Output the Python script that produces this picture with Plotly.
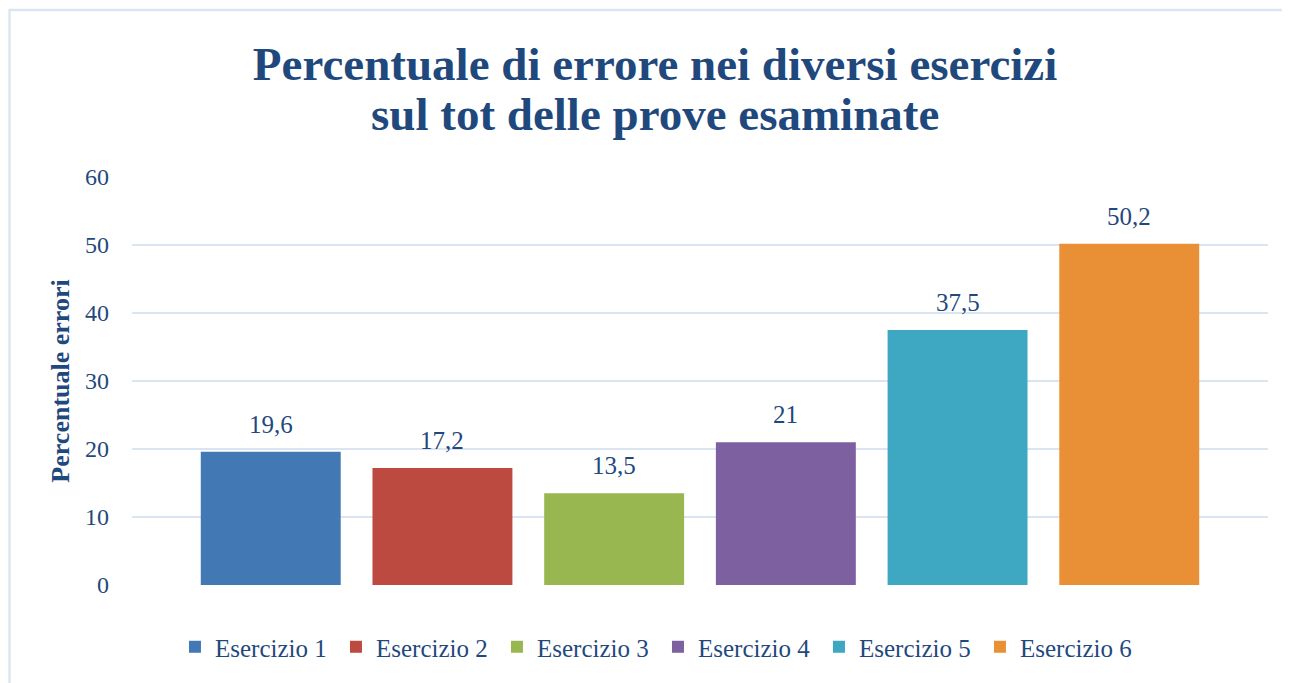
import plotly.graph_objects as go

# dati
esercizi = ["Esercizio 1", "Esercizio 2", "Esercizio 3", "Esercizio 4", "Esercizio 5", "Esercizio 6"]
percentuali = [19.6, 17.2, 13.5, 21, 37.5, 50.2]
colori = ["#4279b5", "#bc4a41", "#98b750", "#7c60a0", "#3ea7c1", "#e99036"]
y_ticks = [0, 10, 20, 30, 40, 50, 60]

titolo_1 = "Percentuale di errore nei diversi esercizi"
titolo_2 = "sul tot delle prove esaminate"

FONT = "Liberation Serif"
BLU = "#1f497d"

def etichetta(v):
    return f"{v:g}".replace(".", ",")

fig = go.Figure()
for i, (nome, val, col) in enumerate(zip(esercizi, percentuali, colori)):
    fig.add_trace(go.Bar(
        x=[i], y=[val], name=nome, width=0.815,
        marker=dict(color=col, line=dict(width=0)),
        hoverinfo="name+y",
    ))
    fig.add_annotation(x=i, y=val, text=etichetta(val), showarrow=False,
                       yanchor="bottom", yshift=12,
                       font=dict(family=FONT, size=25, color=BLU))

# seconda riga del titolo
fig.add_annotation(xref="paper", yref="paper", x=0.4604, y=1.1544,
                   xanchor="center", yanchor="middle", showarrow=False,
                   text="<b>" + titolo_2 + "</b>",
                   font=dict(family=FONT, size=47, color=BLU))

# bordo del grafico (solo sinistra e sopra visibili)
fig.add_shape(type="rect", xref="paper", yref="paper",
              x0=-0.1078, x1=1.1, y0=-0.4, y1=1.4093,
              line=dict(color="#dce6f2", width=2.5), layer="below")

fig.update_layout(
    width=1290, height=683,
    margin=dict(l=124, r=30, t=169, b=106),
    paper_bgcolor="white", plot_bgcolor="white",
    barmode="relative",
    font=dict(family=FONT, color=BLU, size=24),
    title=dict(
        text="<b>" + titolo_1 + "</b>",
        x=0.5016, xanchor="center", xref="container",
        y=0.9187, yanchor="middle", yref="container",
        font=dict(family=FONT, size=47, color=BLU),
    ),
    xaxis=dict(range=[-0.808, 5.808], showticklabels=False, showgrid=False,
               zeroline=False, showline=False, fixedrange=True),
    yaxis=dict(range=[0, 60], tickvals=y_ticks, showgrid=True,
               gridcolor="#dbe5f1", gridwidth=2, zeroline=False, showline=False,
               ticks="", ticklabelstandoff=22,
               tickfont=dict(family=FONT, size=24, color=BLU),
               title=dict(text="<b>Percentuale errori</b>", standoff=7,
                          font=dict(family=FONT, size=26, color=BLU))),
    legend=dict(orientation="h", x=0.463, xanchor="center", y=-0.152, yanchor="middle",
                font=dict(family=FONT, size=25, color=BLU), traceorder="normal",
                entrywidth=116, entrywidthmode="pixels",
                itemclick=False),
    showlegend=True,
)

fig.write_html("out.html")
